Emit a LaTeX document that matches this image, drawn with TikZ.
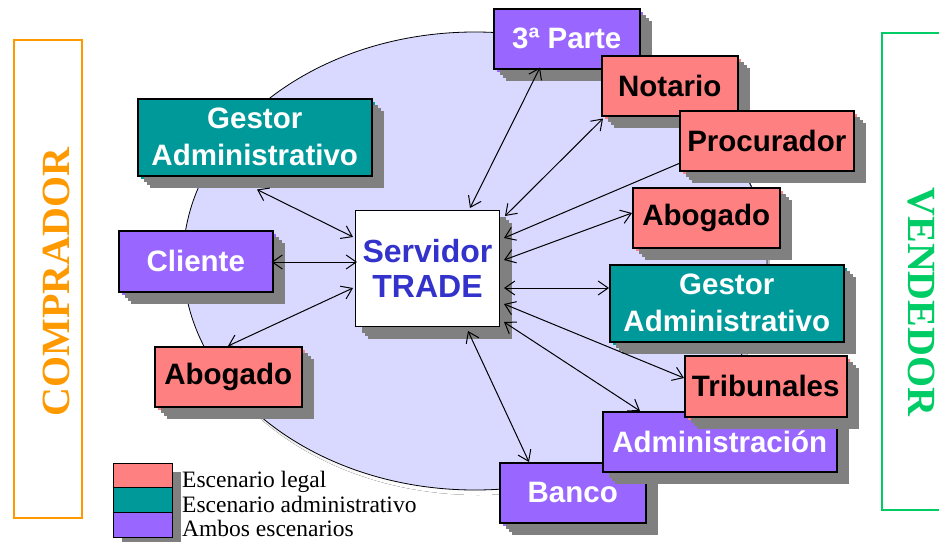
\documentclass[tikz,border=0pt]{standalone}
\usepackage{fontspec}
\setmainfont{Liberation Serif}
\setsansfont{Liberation Sans}
\usetikzlibrary{arrows.meta,calc,shadows}

\definecolor{legalred}{HTML}{FF8080}
\definecolor{admteal}{HTML}{009999}
\definecolor{bothpurple}{HTML}{9966FF}
\definecolor{cloud}{HTML}{D9D9FF}
\definecolor{shade}{HTML}{808080}
\definecolor{buyer}{HTML}{FF9900}
\definecolor{seller}{HTML}{00CC66}
\definecolor{serverblue}{HTML}{3333CC}

\tikzset{
  stacked/.style={
    general shadow={fill=#1, shadow xshift=3pt, shadow yshift=-3pt},
    general shadow={fill=shade, shadow xshift=6pt, shadow yshift=-6pt},
    general shadow={fill=shade, shadow xshift=9pt, shadow yshift=-9pt},
    general shadow={fill=shade, shadow xshift=12pt, shadow yshift=-12pt}},
  actor/.style={draw=black, line width=1.5pt, fill=#1, stacked=#1,
    anchor=north west, inner sep=0pt, align=center,
    font=\sffamily\bfseries\fontsize{29.5}{37}\selectfont},
  legal/.style={actor=legalred, text=black},
  admin/.style={actor=admteal, text=white},
  both/.style={actor=bothpurple, text=white},
  serverbox/.style={draw=black, line width=1pt, fill=white,
    general shadow={fill=shade, shadow xshift=6pt, shadow yshift=-6pt},
    general shadow={fill=shade, shadow xshift=9pt, shadow yshift=-9pt},
    general shadow={fill=shade, shadow xshift=12pt, shadow yshift=-12pt},
    anchor=north west, inner sep=0pt, align=center, text=serverblue,
    font=\sffamily\bfseries\fontsize{32}{35}\selectfont},
  swatch/.style={draw=black, line width=1pt, fill=#1, anchor=north west,
    inner sep=0pt, minimum width=59pt, minimum height=25pt,
    general shadow={fill=shade, shadow xshift=8pt, shadow yshift=-8pt}},
  legendtext/.style={anchor=base west, inner sep=0pt,
    font=\fontsize{23.5}{25}\selectfont},
  barb/.tip={Straight Barb[length=10pt,width=14pt]},
  conn/.style={barb-barb, line width=1pt},
  halfconn/.style={barb-, line width=1pt},
  sidelabel/.style={font=\bfseries\fontsize{40}{40}\selectfont, inner sep=0pt}
}

\begin{document}
\begin{tikzpicture}[x=1pt, y=-1pt]
  \useasboundingbox (0,0) rectangle (939,541);

  % central cloud
  \fill[shade] (478,266) ellipse [x radius=292pt, y radius=229pt];
  \filldraw[fill=cloud, draw=black, line width=0.8pt] (475,261) ellipse [x radius=292pt, y radius=229pt];

  % buyer and seller frames
  \draw[buyer, line width=2.5pt] (14,40) rectangle (82,518);
  \node[sidelabel, text=buyer, rotate=90] (comprador) at (56,282) {COMPRADOR};
  \draw[seller, line width=2pt] (882,33) rectangle (945,510);
  \node[sidelabel, text=seller, rotate=-90] (vendedor) at (921,302) {VENDEDOR};

  % actors
  \node[both,  minimum width=146pt, minimum height=60pt] (parte) at (493,8) {3ª Parte};
  \node[legal, minimum width=136pt, minimum height=60pt] (notario) at (601,55) {Notario};
  \node[legal, minimum width=174pt, minimum height=60pt] (procurador) at (679,110) {Procurador};
  \node[admin, minimum width=234pt, minimum height=77pt] (gestorL) at (137,98) {Gestor\\Administrativo};
  \node[both,  minimum width=154pt, minimum height=61pt] (cliente) at (118,230) {Cliente};
  \node[serverbox, minimum width=144pt, minimum height=116pt] (servidor) at (355,210) {Servidor\\TRADE};
  \node[legal, minimum width=147pt, minimum height=60pt] (abogadoL) at (154,346) {Abogado};
  \node[legal, minimum width=147pt, minimum height=60pt] (abogadoR) at (632,187) {Abogado};
  \node[admin, minimum width=234pt, minimum height=77pt] (gestorR) at (609,264) {Gestor\\Administrativo};
  \node[both,  minimum width=146pt, minimum height=60pt] (banco) at (499,462) {Banco};
  \node[both,  minimum width=234pt, minimum height=60pt] (administracion) at (602,411) {Administración};
  \node[legal, minimum width=162pt, minimum height=61pt] (tribunales) at (684,355) {Tribunales};

  % links to the server
  \draw[conn] ($(servidor.north west)+(115,-2)$) -- ($(parte.south west)+(47,-2)$);
  \draw[conn] ($(servidor.north east)+(5,6)$) -- ($(notario.south west)+(2,2)$);
  \draw[halfconn] ($(servidor.north east)+(4,28)$) -- ($(procurador.south west)+(0,-8)$);
  \draw[conn] ($(servidor.north east)+(4,50)$) -- ($(abogadoR.north west)+(0,26)$);
  \draw[conn] ($(servidor.north east)+(4,78)$) -- ($(gestorR.north west)+(0,24)$);
  \draw[conn] ($(servidor.north east)+(4,94)$) -- ($(tribunales.north west)+(0,23)$);
  \draw[conn] ($(servidor.north east)+(4,112)$) -- ($(administracion.north west)+(38,0)$);
  \draw[conn] ($(servidor.south west)+(113,4)$) -- ($(banco.north west)+(30,0)$);
  \draw[conn] ($(servidor.north west)+(-2,27)$) -- ($(gestorL.south west)+(120,13)$);
  \draw[conn] ($(servidor.north west)+(2,52)$) -- ($(cliente.north east)+(-2,32)$);
  \draw[conn] ($(servidor.north west)+(-2,78)$) -- ($(abogadoL.north west)+(74,0)$);

  % legend
  \node[swatch=legalred] (swlegal) at (113,463) {};
  \node[swatch=admteal] (swadmin) at (113,487) {};
  \node[swatch=bothpurple] (swboth) at (113,512) {};
  \node[legendtext] (lglegal) at (182,487) {Escenario legal};
  \node[legendtext] (lgadmin) at (182,512) {Escenario administrativo};
  \node[legendtext] (lgboth) at (182,536) {Ambos escenarios};
\end{tikzpicture}
\end{document}
